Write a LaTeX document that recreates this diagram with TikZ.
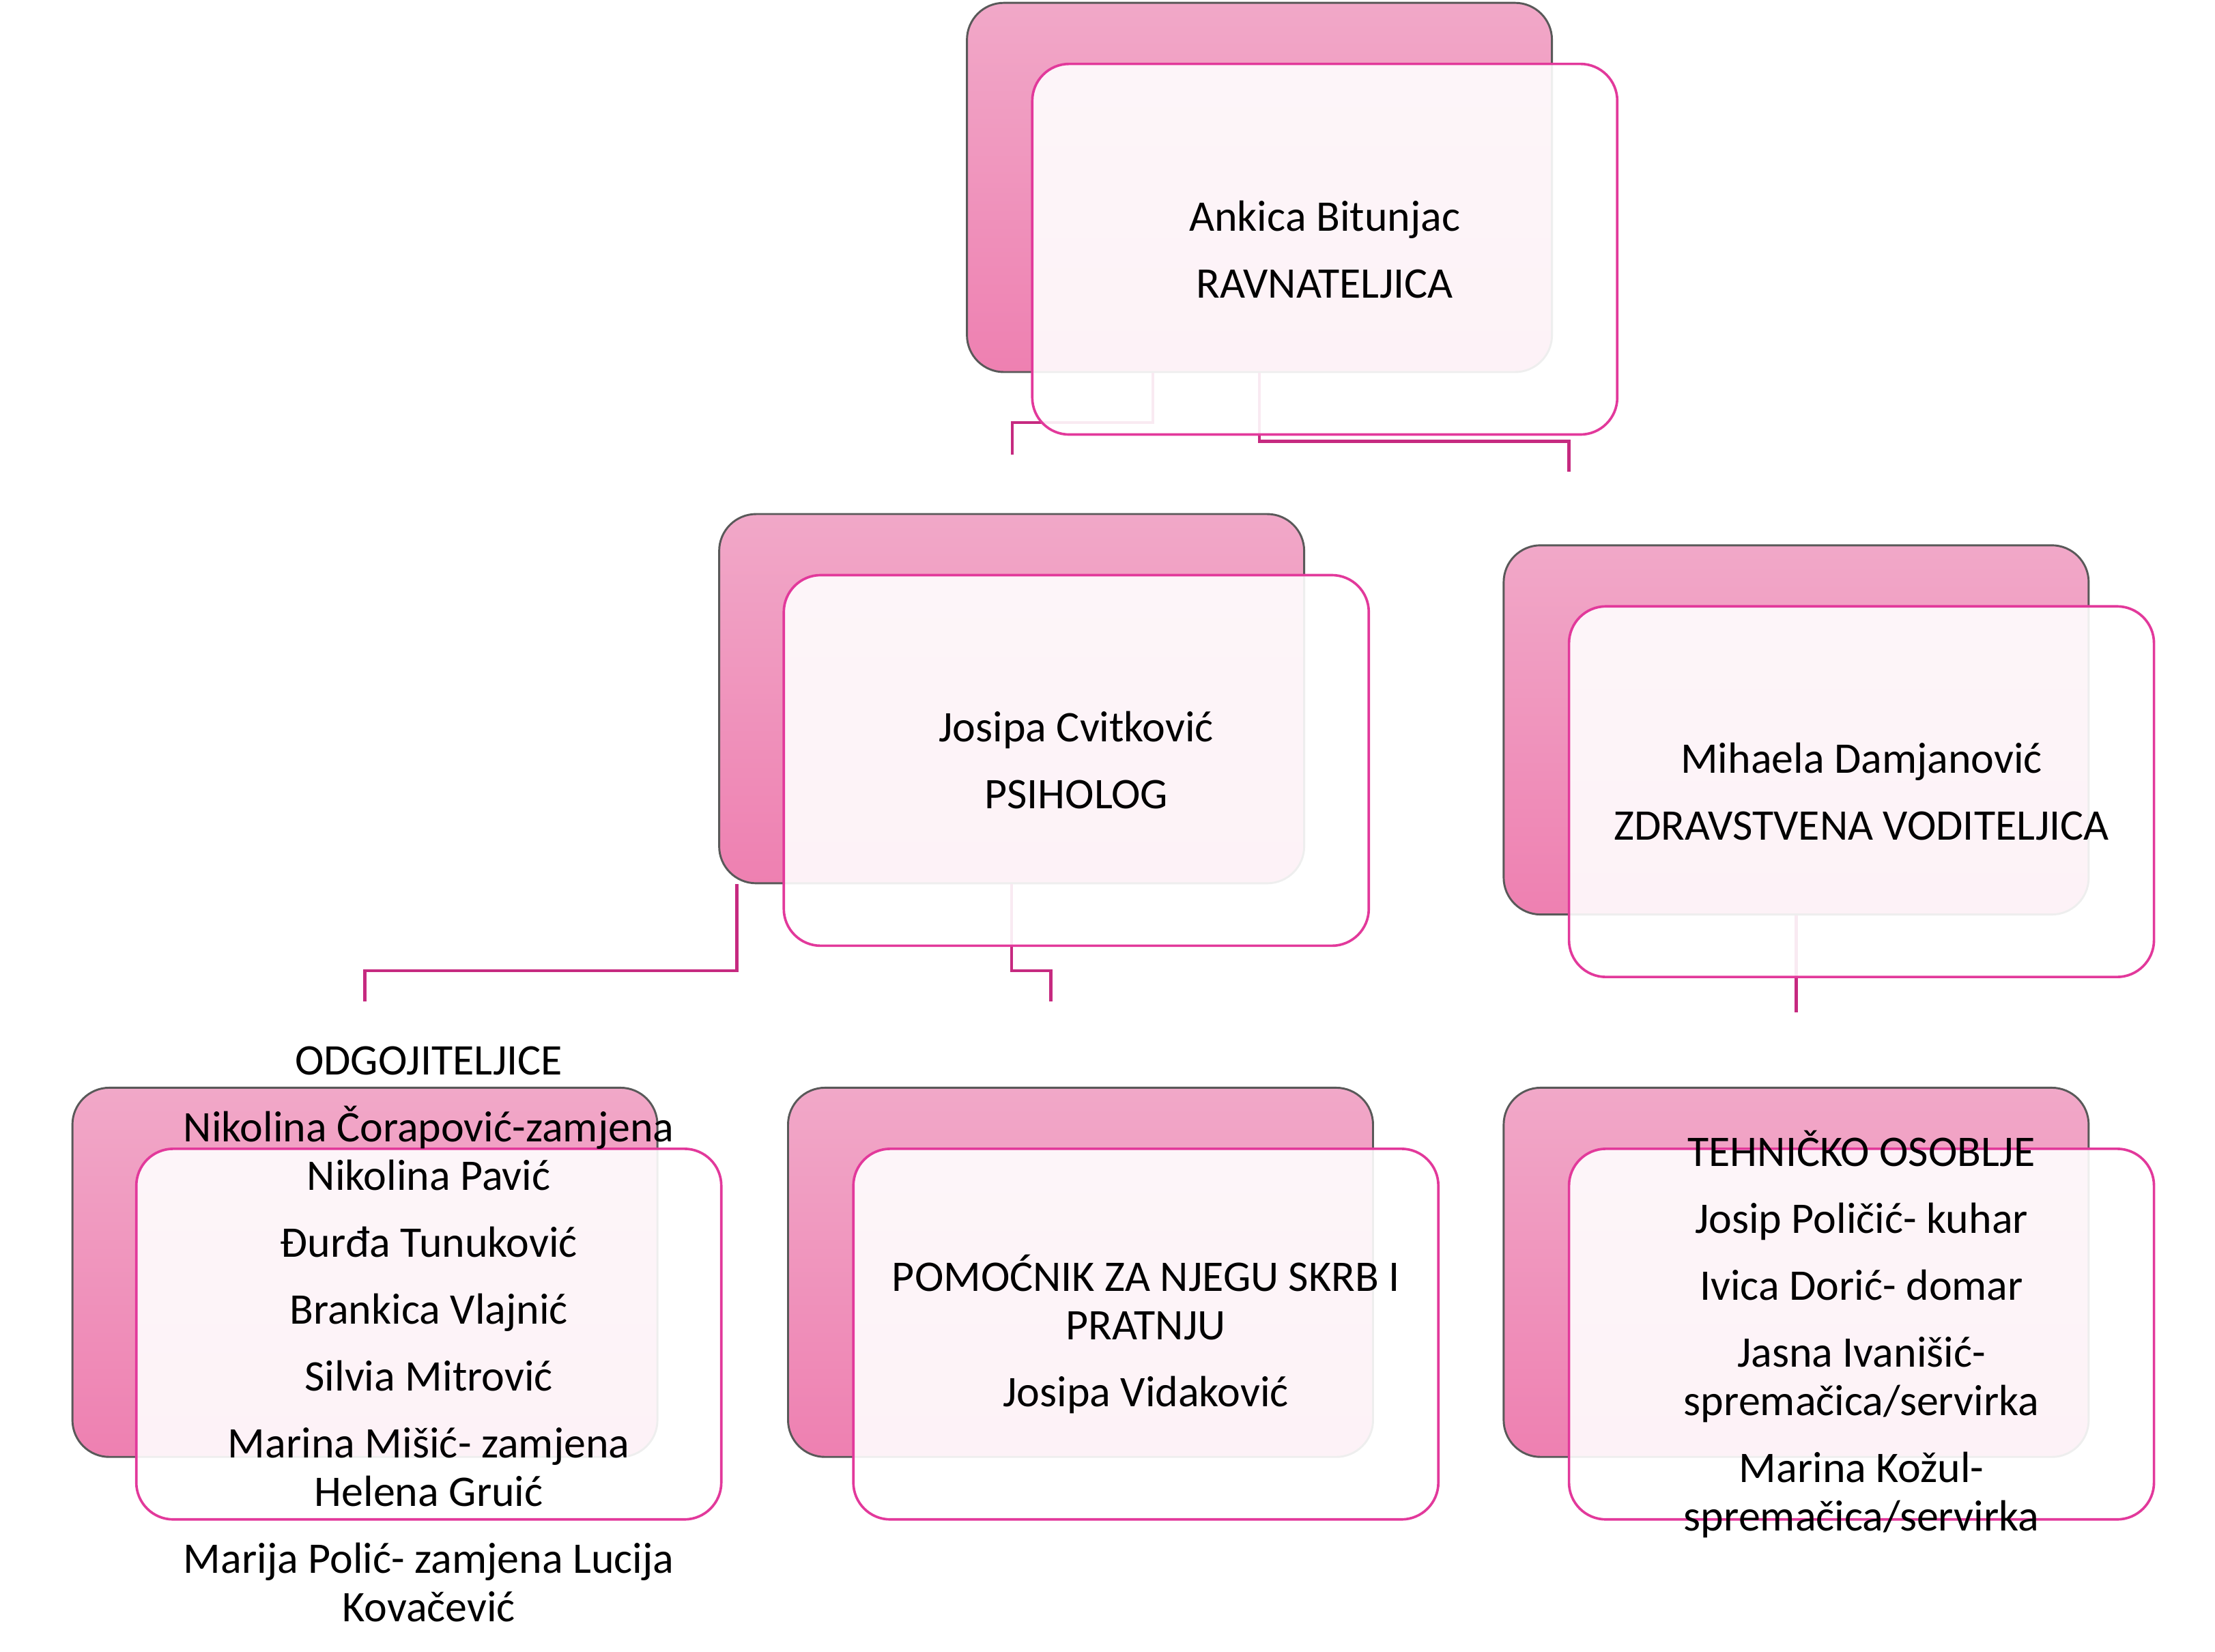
\documentclass[tikz,border=0pt]{standalone}
\usepackage{fontspec}
\setmainfont{Carlito}
\usepackage{tikz}

\definecolor{boxtop}{HTML}{F1A8C8}
\definecolor{boxbot}{HTML}{EE80B1}
\definecolor{frameline}{HTML}{E2399B}
\definecolor{linkline}{HTML}{C62A80}

\begin{document}
\begin{tikzpicture}[back/.style = {rectangle, rounded corners=0.26cm, draw=black!65,
	line width=0.4pt, top color=boxtop, bottom color=boxbot, minimum width=4.12cm,
	minimum height=2.60cm, inner sep=0pt},
	front/.style = {rectangle, rounded corners=0.26cm, draw=frameline, line width=0.5pt,
	fill=white, fill opacity=0.9, minimum width=4.12cm, minimum height=2.61cm, inner sep=0pt},
	txt/.style = {align=center, font=\fontsize{8.75pt}{9.7pt}\selectfont, inner sep=0pt},
	edge/.style = {draw=linkline, line width=0.6pt}]

	\useasboundingbox (0cm, 0cm) rectangle (15.60cm, -11.63cm);

	\node (ravnB) [back] at ( 8.870cm, -1.320cm) {};
	\node (psihB) [back] at ( 7.125cm, -4.920cm) {};
	\node (zdrB)  [back] at (12.650cm, -5.140cm) {};
	\node (odgB)  [back] at ( 2.570cm, -8.960cm) {};
	\node (pomB)  [back] at ( 7.610cm, -8.960cm) {};
	\node (tehB)  [back] at (12.650cm, -8.960cm) {};

	% Connectors
	\coordinate (psihIn) at ( 7.13cm, -3.20cm);
	\coordinate (zdrIn)  at (11.05cm, -3.32cm);
	\coordinate (odgIn)  at ( 2.57cm, -7.05cm);
	\coordinate (pomIn)  at ( 7.40cm, -7.05cm);
	\coordinate (tehIn)  at (12.65cm, -7.13cm);

	\draw[edge] ([xshift=-0.75cm]ravnB.south) -- ++(0cm, -0.35cm) -| (psihIn);
	\draw[edge] (ravnB.south) -- ++(0cm, -0.48cm) -| (zdrIn);
	\draw[edge] ([xshift=-1.935cm]psihB.south) -- ++(0cm, -0.61cm) -| (odgIn);
	\draw[edge] (psihB.south) -- ++(0cm, -0.61cm) -| (pomIn);
	\draw[edge] (zdrB.south) -- (tehIn);

	\node (ravn) [front] at ( 9.330cm, -1.755cm) {};
	\node (psih) [front] at ( 7.580cm, -5.355cm) {};
	\node (zdr)  [front] at (13.110cm, -5.575cm) {};
	\node (odg)  [front] at ( 3.020cm, -9.395cm) {};
	\node (pom)  [front] at ( 8.070cm, -9.395cm) {};
	\node (teh)  [front] at (13.110cm, -9.395cm) {};

	% Texts
	\node (ravnT) [txt] at (ravn) {Ankica Bitunjac\\[3.7pt] RAVNATELJICA};
	\node (psihT) [txt] at (psih) {Josipa Cvitković\\[3.7pt] PSIHOLOG};
	\node (zdrT)  [txt] at (zdr)  {Mihaela Damjanović\\[3.7pt] ZDRAVSTVENA VODITELJICA};
	\node (odgT)  [txt] at (odg)  {ODGOJITELJICE\\[3.7pt]
		Nikolina Čorapović-zamjena\\ Nikolina Pavić\\[3.7pt]
		Đurđa Tunuković\\[3.7pt] Brankica Vlajnić\\[3.7pt] Silvia Mitrović\\[3.7pt]
		Marina Mišić- zamjena\\ Helena Gruić\\[3.7pt]
		Marija Polić- zamjena Lucija\\ Kovačević};
	\node (pomT)  [txt] at (pom)  {POMOĆNIK ZA NJEGU SKRB I\\ PRATNJU\\[3.7pt] Josipa Vidaković};
	\node (tehT)  [txt] at (teh)  {TEHNIČKO OSOBLJE\\[3.7pt] Josip Poličić- kuhar\\[3.7pt]
		Ivica Dorić- domar\\[3.7pt] Jasna Ivanišić-\\ spremačica/servirka\\[3.7pt]
		Marina Kožul-\\ spremačica/servirka};
\end{tikzpicture}
\end{document}
